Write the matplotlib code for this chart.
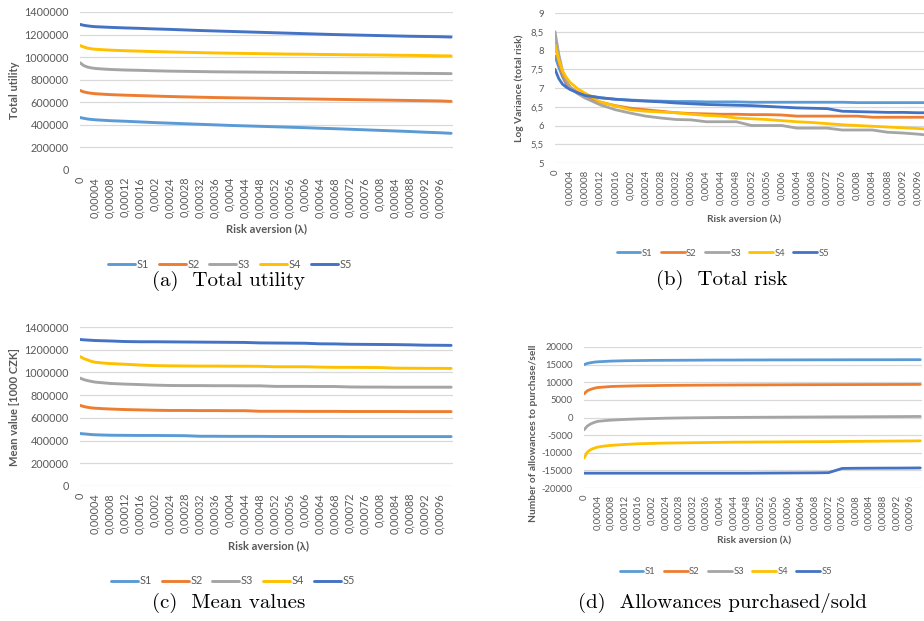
import matplotlib
matplotlib.use("Agg")
import matplotlib.pyplot as plt

# category positions (lambda index, step 0.00001) where values were read
idx = [0, 1, 2, 3, 4, 6, 8, 12, 16, 20, 24, 28, 32, 36, 40, 44, 48, 52, 56, 60,
       64, 68, 72, 76, 80, 84, 88, 92, 96, 99]

x_labels = ["0", "0,00004", "0,00008", "0,00012", "0,00016", "0,0002", "0,00024",
            "0,00028", "0,00032", "0,00036", "0,0004", "0,00044", "0,00048",
            "0,00052", "0,00056", "0,0006", "0,00064", "0,00068", "0,00072",
            "0,00076", "0,0008", "0,00084", "0,00088", "0,00092", "0,00096"]
x_ticks = [4 * i for i in range(len(x_labels))]

series_names = ["S1", "S2", "S3", "S4", "S5"]
colors = ["#5B9BD5", "#ED7D31", "#A5A5A5", "#FFC000", "#4472C4"]

# (a) total utility
a_S1 = [465000, 458000, 452000, 448000, 445000, 441000, 437000, 432000, 426000, 420000,
        415000, 410000, 405000, 400000, 395000, 391000, 387000, 383000, 379000, 375000,
        370000, 366000, 361000, 356000, 351000, 346000, 341000, 335000, 330000, 325000]
a_S2 = [705000, 692000, 685000, 680000, 676000, 672000, 668000, 663000, 659000, 655000,
        651000, 648000, 645000, 642000, 640000, 638000, 636000, 634000, 632000, 630000,
        628000, 626000, 624000, 622000, 620000, 618000, 616000, 614000, 612000, 608000]
a_S3 = [950000, 925000, 912000, 905000, 900000, 895000, 891000, 886000, 883000, 879000,
        876000, 874000, 872000, 870000, 869000, 868000, 867000, 866000, 865000, 864000,
        863000, 862000, 861000, 860000, 859000, 858000, 857000, 856000, 855000, 854000]
a_S4 = [1103000, 1090000, 1080000, 1074000, 1070000, 1066000, 1062000, 1057000, 1053000,
        1049000, 1046000, 1043000, 1040000, 1037000, 1035000, 1033000, 1031000, 1029000,
        1027000, 1026000, 1024000, 1023000, 1021000, 1020000, 1019000, 1017000, 1016000,
        1014000, 1012000, 1011000]
a_S5 = [1290000, 1282000, 1277000, 1273000, 1270000, 1267000, 1264000, 1259000, 1255000,
        1250000, 1246000, 1241000, 1236000, 1232000, 1228000, 1224000, 1220000, 1216000,
        1212000, 1208000, 1204000, 1200000, 1197000, 1194000, 1191000, 1188000, 1185000,
        1183000, 1181000, 1178000]

# (b) total risk (log variance)
b_S1 = [7.85, 7.55, 7.3, 7.1, 6.98, 6.88, 6.81, 6.74, 6.70, 6.68, 6.66, 6.65, 6.64, 6.64,
        6.63, 6.63, 6.63, 6.62, 6.62, 6.62, 6.62, 6.62, 6.62, 6.62, 6.61, 6.61, 6.61,
        6.61, 6.61, 6.61]
b_S2 = [8.2, 7.7, 7.35, 7.15, 7.02, 6.88, 6.77, 6.62, 6.53, 6.46, 6.42, 6.38, 6.34, 6.32,
        6.31, 6.30, 6.30, 6.29, 6.29, 6.28, 6.25, 6.25, 6.25, 6.25, 6.25, 6.22, 6.22,
        6.22, 6.22, 6.22]
b_S3 = [8.5, 7.9, 7.45, 7.2, 7.02, 6.85, 6.73, 6.55, 6.42, 6.33, 6.25, 6.2, 6.16, 6.15,
        6.1, 6.1, 6.1, 6.0, 6.0, 6.0, 5.93, 5.93, 5.93, 5.88, 5.88, 5.88, 5.82, 5.8,
        5.77, 5.74]
b_S4 = [8.15, 7.75, 7.45, 7.28, 7.15, 6.98, 6.86, 6.63, 6.52, 6.42, 6.38, 6.36, 6.34,
        6.3, 6.27, 6.25, 6.2, 6.18, 6.16, 6.13, 6.1, 6.08, 6.05, 6.02, 6.0, 5.98, 5.96,
        5.94, 5.92, 5.9]
b_S5 = [7.5, 7.25, 7.1, 7.02, 6.96, 6.87, 6.80, 6.74, 6.70, 6.67, 6.65, 6.63, 6.60, 6.58,
        6.56, 6.55, 6.54, 6.53, 6.51, 6.49, 6.47, 6.46, 6.45, 6.38, 6.37, 6.36, 6.35,
        6.35, 6.34, 6.34]

# (c) mean values
c_S1 = [462000, 459000, 456000, 453000, 451000, 449000, 447000, 446000, 445000, 445000,
        444000, 443000, 438000, 438000, 437000, 437000, 437000, 436000, 436000, 436000,
        436000, 436000, 435000, 435000, 435000, 435000, 435000, 435000, 435000, 435000]
c_S2 = [710000, 700000, 693000, 688000, 685000, 681000, 678000, 673000, 670000, 667000,
        665000, 665000, 664000, 664000, 663000, 663000, 658000, 658000, 658000, 657000,
        657000, 657000, 656000, 656000, 656000, 656000, 655000, 655000, 655000, 655000]
c_S3 = [950000, 937000, 928000, 921000, 915000, 909000, 903000, 897000, 893000, 888000,
        885000, 884000, 884000, 883000, 883000, 882000, 882000, 877000, 877000, 877000,
        876000, 876000, 872000, 871000, 871000, 870000, 870000, 870000, 870000, 870000]
c_S4 = [1140000, 1122000, 1110000, 1098000, 1090000, 1083000, 1078000, 1072000, 1065000,
        1060000, 1058000, 1057000, 1056000, 1056000, 1055000, 1055000, 1054000, 1050000,
        1050000, 1050000, 1047000, 1045000, 1045000, 1044000, 1043000, 1038000, 1037000,
        1036000, 1036000, 1035000]
c_S5 = [1290000, 1287000, 1285000, 1283000, 1281000, 1279000, 1277000, 1272000, 1270000,
        1270000, 1269000, 1268000, 1267000, 1266000, 1265000, 1264000, 1260000, 1259000,
        1258000, 1257000, 1252000, 1251000, 1248000, 1247000, 1246000, 1245000, 1243000,
        1240000, 1239000, 1238000]

# (d) allowances purchased/sold
d_S1 = [15000, 15350, 15550, 15700, 15800, 15900, 16000, 16100, 16150, 16200, 16220,
        16240, 16260, 16280, 16300, 16300, 16320, 16320, 16340, 16340, 16350, 16360,
        16360, 16370, 16380, 16380, 16390, 16390, 16400, 16400]
d_S2 = [6700, 7600, 8000, 8300, 8500, 8650, 8800, 8900, 9000, 9050, 9100, 9130, 9160,
        9180, 9200, 9220, 9240, 9250, 9270, 9280, 9300, 9310, 9320, 9330, 9340, 9350,
        9360, 9370, 9380, 9400]
d_S3 = [-3500, -2400, -1800, -1400, -1100, -900, -750, -550, -400, -300, -200, -130, -80,
        -40, 0, 20, 50, 70, 90, 110, 130, 150, 170, 190, 200, 220, 240, 260, 280, 300]
d_S4 = [-11500, -9800, -9100, -8700, -8400, -8100, -7900, -7650, -7450, -7350, -7250,
        -7200, -7150, -7100, -7050, -7000, -6980, -6950, -6930, -6900, -6880, -6860,
        -6840, -6800, -6770, -6740, -6710, -6680, -6650, -6620]
d_S5 = [-15800, -15800, -15800, -15800, -15800, -15800, -15800, -15800, -15800, -15800,
        -15800, -15800, -15800, -15800, -15800, -15800, -15800, -15780, -15760, -15740,
        -15720, -15700, -15650, -14450, -14400, -14380, -14360, -14350, -14330, -14300]

a_yticks = [0, 200000, 400000, 600000, 800000, 1000000, 1200000, 1400000]
a_ylabels = ["0", "200000", "400000", "600000", "800000", "1000000", "1200000", "1400000"]
b_yticks = [5, 5.5, 6, 6.5, 7, 7.5, 8, 8.5, 9]
b_ylabels = ["5", "5,5", "6", "6,5", "7", "7,5", "8", "8,5", "9"]
d_yticks = [-20000, -15000, -10000, -5000, 0, 5000, 10000, 15000, 20000]
d_ylabels = ["-20000", "-15000", "-10000", "-5000", "0", "5000", "10000", "15000", "20000"]

W, H = 924, 621
FONT = ["Lato", "DejaVu Sans"]
GREY = "#595959"
plt.rcParams["font.family"] = FONT

fig = plt.figure(figsize=(W / 100, H / 100), dpi=100)


def px_axes(left, top, right, bottom):
    return fig.add_axes([left / W, 1 - bottom / H, (right - left) / W, (bottom - top) / H])


def panel(box, data, yticks, ylabels, ylabel, ylab_xy, xlab_xy, leg_xy, caption, cap_xy,
          tick_fs, lab_fs, lw):
    ax = px_axes(*box)
    for vals, name, c in zip(data, series_names, colors):
        ax.plot(idx, vals, color=c, lw=lw, label=name, solid_capstyle="round")
    ax.set_xlim(0, 99.5)
    ax.set_ylim(yticks[0], yticks[-1])
    ax.set_yticks(yticks)
    ax.set_yticklabels(ylabels)
    ax.set_xticks(x_ticks)
    ax.set_xticklabels(x_labels, rotation=90)
    ax.tick_params(axis="both", length=0, colors=GREY, labelsize=tick_fs)
    ax.tick_params(axis="y", pad=8)
    ax.tick_params(axis="x", pad=5)
    for s in ax.spines.values():
        s.set_visible(False)
    ax.grid(axis="y", color="#D9D9D9", lw=0.9)
    ax.set_axisbelow(True)
    fig.text(ylab_xy[0] / W, 1 - ylab_xy[1] / H, ylabel, rotation=90, ha="center",
             va="center", fontsize=lab_fs, fontweight="bold", color=GREY)
    fig.text(xlab_xy[0] / W, 1 - xlab_xy[1] / H, "Risk aversion (λ)", ha="center",
             va="center", fontsize=lab_fs, fontweight="bold", color=GREY)
    handles, labels = ax.get_legend_handles_labels()
    fig.legend(handles, labels, loc="center", bbox_to_anchor=(leg_xy[0] / W, 1 - leg_xy[1] / H),
               ncol=5, frameon=False, fontsize=tick_fs, labelcolor=GREY,
               handlelength=2.5, handletextpad=0.15, columnspacing=0.9)
    fig.text(cap_xy[0] / W, 1 - cap_xy[1] / H, caption, ha="center", va="center",
             fontsize=15, family="cmr10", color="black")
    return ax


panel((80, 12, 453, 170), [a_S1, a_S2, a_S3, a_S4, a_S5], a_yticks, a_ylabels,
      "Total utility", (15, 90), (266, 229), (230, 264), "(a)  Total utility", (229, 281),
      7.8, 8.0, 2.1)
panel((555, 13, 931, 163), [b_S1, b_S2, b_S3, b_S4, b_S5], b_yticks, b_ylabels,
      "Log Variance (total risk)", (519, 88), (744, 220), (723, 253), "(b)  Total risk",
      (722, 280), 6.8, 7.3, 2.0)
panel((80, 327, 453, 486), [c_S1, c_S2, c_S3, c_S4, c_S5], a_yticks, a_ylabels,
      "Mean value [1000 CZK]", (15, 407), (268, 546), (233, 581), "(c)  Mean values",
      (229, 603), 7.8, 8.0, 2.1)
panel((584, 347, 922, 488), [d_S1, d_S2, d_S3, d_S4, d_S5], d_yticks, d_ylabels,
      "Number of allowances to purchase/sell", (533, 433), (754, 541), (726, 572),
      "(d)  Allowances purchased/sold", (722, 603), 6.8, 7.3, 2.0)

fig.savefig("out.png", dpi=100)
